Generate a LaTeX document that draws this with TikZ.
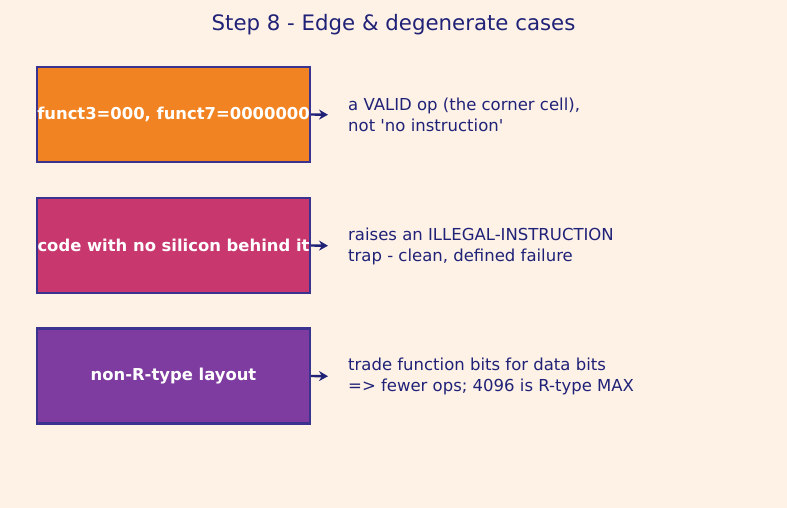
\documentclass[tikz,border=0pt]{standalone}
\usepackage{fontspec}
\setmainfont{DejaVu Sans}
\usetikzlibrary{arrows.meta}
\definecolor{bgcream}{HTML}{FEF1E6}
\definecolor{inkblue}{HTML}{1F2277}
\definecolor{edgeblue}{HTML}{3A3490}
\definecolor{caseorange}{HTML}{F28322}
\definecolor{casepink}{HTML}{C8376E}
\definecolor{casepurple}{HTML}{7E3CA0}
\begin{document}
\begin{tikzpicture}[x=1pt,y=-1pt,
  casebox/.style={draw=edgeblue,line width=2.2pt,minimum width=273pt,minimum height=95pt,inner sep=0pt,text=white,font=\fontsize{16.4}{19}\selectfont\bfseries},
  note/.style={anchor=west,align=left,inner sep=0pt,text=inkblue,font=\fontsize{16.5}{21}\selectfont},
  link/.style={-{Stealth[length=9pt,width=10pt,inset=3pt]},line width=2.4pt,draw=inkblue,shorten >=20pt}]
\fill[bgcream] (0,0) rectangle (787,508);
\node[text=inkblue,font=\fontsize{21.3}{25}\selectfont] (title) at (393.5,25) {Step 8 - Edge \& degenerate cases};
% the three cases
\node[casebox,fill=caseorange] (c1) at (173.5,114.5) {\raisebox{-1.5pt}{funct3=000, funct7=0000000}};
\node[casebox,fill=casepink] (c2) at (173.5,245.5) {\raisebox{-1.5pt}{code with no silicon behind it}};
\node[casebox,fill=casepurple] (c3) at (173.5,376) {\raisebox{-1.5pt}{non-R-type layout}};
\node[note] (n1) at (348,115) {a VALID op (the corner cell),\\not \textquotesingle no instruction\textquotesingle};
\node[note] (n2) at (348,246) {raises an ILLEGAL-INSTRUCTION\\trap - clean, defined failure};
\node[note] (n3) at (348,376.5) {trade function bits for data bits\\=> fewer ops; 4096 is R-type MAX};
\draw[link] (c1.east) -- (n1.west);
\draw[link] (c2.east) -- (n2.west);
\draw[link] (c3.east) -- (n3.west);
\end{tikzpicture}
\end{document}
